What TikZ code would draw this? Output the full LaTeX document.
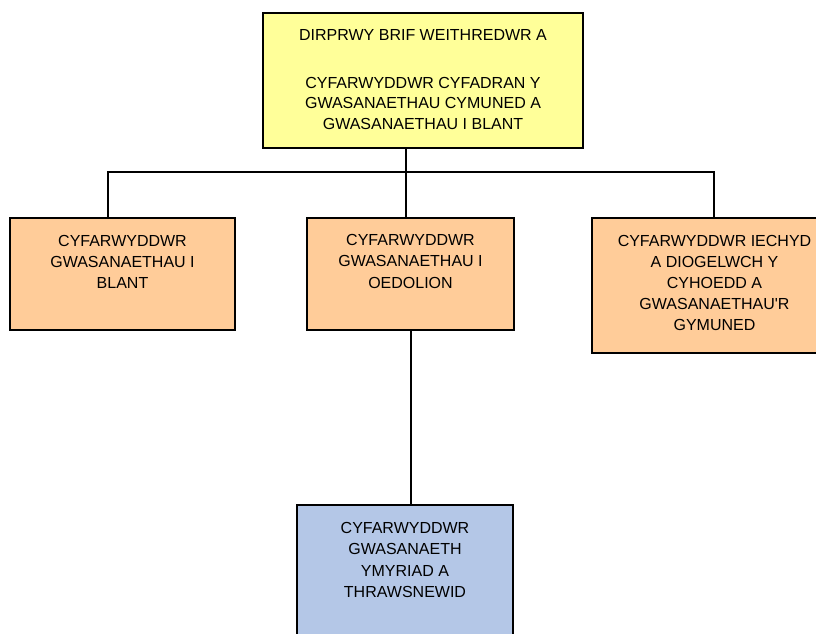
\documentclass[tikz,border=0pt]{standalone}
\usepackage{fontspec}
\setmainfont{Liberation Sans}
\definecolor{boxyellow}{HTML}{FFFF99}
\definecolor{boxorange}{HTML}{FFCC99}
\definecolor{boxblue}{HTML}{B4C7E7}
\newcommand{\boxtext}[4]{\parbox[c][#2][t]{#1}{\centering\fontsize{16pt}{#3}\selectfont #4\par}}
\begin{document}
\begin{tikzpicture}[x=1pt,y=-1pt,
  orgbox/.style={draw=black, line width=2pt, inner sep=0pt, anchor=north west, align=center},
  conn/.style={draw=black, line width=2.3pt}]
\useasboundingbox (0,0) rectangle (816,633);
\clip (0,0) rectangle (816,633);
\node[orgbox, fill=boxyellow] (top) at (262,12)
  {\boxtext{320pt}{135pt}{20.5pt}{\rule{0pt}{27pt}DIRPRWY BRIF WEITHREDWR A\\[27.5pt]CYFARWYDDWR CYFADRAN Y\\GWASANAETHAU CYMUNED A\\GWASANAETHAU I BLANT}};
\node[orgbox, fill=boxorange] (left) at (9,217)
  {\boxtext{225pt}{112pt}{21.3pt}{\rule{0pt}{28pt}CYFARWYDDWR\\GWASANAETHAU I\\BLANT}};
\node[orgbox, fill=boxorange] (mid) at (306,217)
  {\boxtext{207pt}{112pt}{21.3pt}{\rule{0pt}{27.5pt}CYFARWYDDWR\\GWASANAETHAU I\\OEDOLION}};
\node[orgbox, fill=boxorange] (right) at (591,217)
  {\boxtext{245pt}{135pt}{21pt}{\rule{0pt}{28pt}CYFARWYDDWR IECHYD\\A DIOGELWCH Y\\CYHOEDD A\\GWASANAETHAU\textquotesingle R\\GYMUNED}};
\node[orgbox, fill=boxblue] (bot) at (296,504)
  {\boxtext{216pt}{160pt}{21.5pt}{\rule{0pt}{28pt}CYFARWYDDWR\\GWASANAETH\\YMYRIAD A\\THRAWSNEWID}};
\coordinate (j) at (406,172);
\coordinate (hl) at (108,172);
\coordinate (hr) at (714,172);
\coordinate (m) at (411,400);
\draw[conn] (top.south -| j) -- (j);
\draw[conn] (left.north -| hl) -- (hl) -- (hr) -- (right.north -| hr);
\draw[conn] (mid.north -| j) -- (j);
\draw[conn] (mid.south -| m) -- (bot.north -| m);
\end{tikzpicture}
\end{document}
